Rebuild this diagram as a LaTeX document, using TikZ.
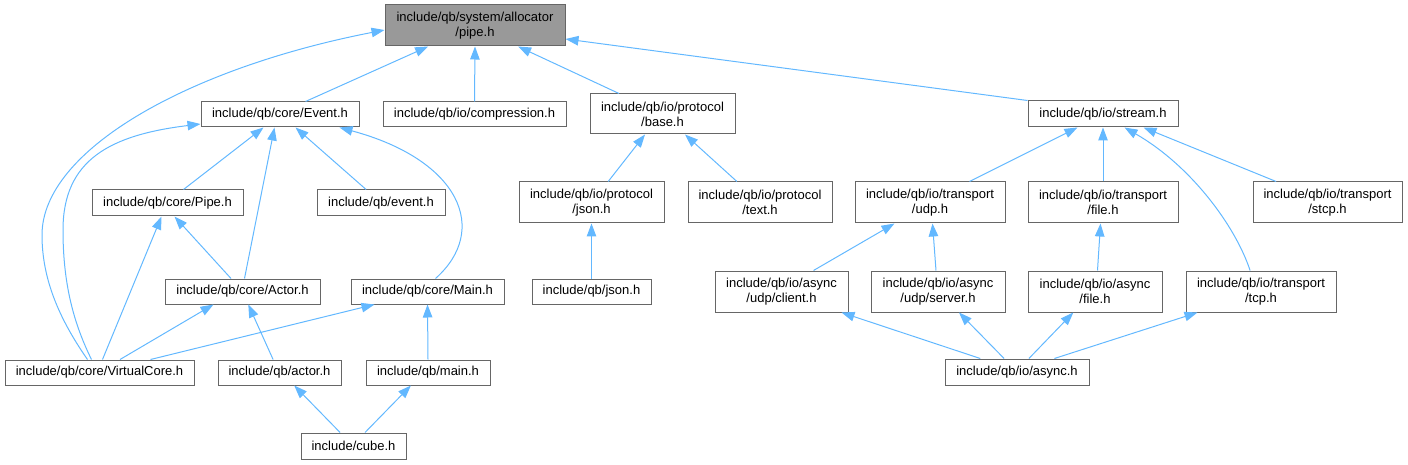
\documentclass[tikz,border=0pt]{standalone}
\usepackage{fontspec}
\setmainfont{Liberation Sans}
\usetikzlibrary{arrows.meta}
\definecolor{edgeblue}{HTML}{63B8FF}
\definecolor{boxgray}{HTML}{666666}
\definecolor{rootfill}{HTML}{999999}
\begin{document}
\begin{tikzpicture}[x=1pt,y=-1pt,
  box/.style={draw=boxgray,line width=1pt,fill=white,inner sep=0pt,align=center,
    font=\fontsize{13}{15}\selectfont,minimum height=25pt},
  box2/.style={box,minimum height=41pt},
  rootbox/.style={box2,fill=rootfill},
  edge/.style={draw=edgeblue,line width=1pt,-{Triangle[length=13pt,width=9.5pt]}}]
\useasboundingbox (0,0) rectangle (1408,465);
% nodes
\node[rootbox,minimum width=180pt] (pipe) at (475,25.5) {include/qb/system/allocator\\/pipe.h};
\node[box,minimum width=158pt] (ev) at (280,114.5) {include/qb/core/Event.h};
\node[box,minimum width=183pt] (comp) at (474.5,114.5) {include/qb/io/compression.h};
\node[box,minimum width=151pt,minimum height=26pt] (cpipe) at (167.5,203) {include/qb/core/Pipe.h};
\node[box,minimum width=128pt,minimum height=26pt] (qevent) at (381,203) {include/qb/event.h};
\node[box,minimum width=155pt] (cactor) at (242.5,291.5) {include/qb/core/Actor.h};
\node[box,minimum width=153pt] (cmain) at (427.5,291.5) {include/qb/core/Main.h};
\node[box,minimum width=189pt] (vc) at (99.5,372.5) {include/qb/core/VirtualCore.h};
\node[box,minimum width=123pt] (qactor) at (279.5,372.5) {include/qb/actor.h};
\node[box,minimum width=124pt] (qmain) at (428,372.5) {include/qb/main.h};
\node[box,minimum width=105pt,minimum height=26pt] (cube) at (353.5,446) {include/cube.h};
\node[box2,minimum width=145pt,minimum height=40pt] (base) at (662.5,114) {include/qb/io/protocol\\/base.h};
\node[box2,minimum width=145pt] (pjson) at (591.5,202.5) {include/qb/io/protocol\\/json.h};
\node[box2,minimum width=144pt] (ptext) at (760,202.5) {include/qb/io/protocol\\/text.h};
\node[box,minimum width=119pt] (json) at (591.5,291.5) {include/qb/json.h};
\node[box,minimum width=150pt,minimum height=26pt] (stream) at (1103,114) {include/qb/io/stream.h};
\node[box2,minimum width=150pt] (tudp) at (930,202.5) {include/qb/io/transport\\/udp.h};
\node[box2,minimum width=150pt] (tfile) at (1103,202.5) {include/qb/io/transport\\/file.h};
\node[box2,minimum width=149pt] (tstcp) at (1327.5,202.5) {include/qb/io/transport\\/stcp.h};
\node[box2,minimum width=133pt] (aclient) at (781.5,291.5) {include/qb/io/async\\/udp/client.h};
\node[box2,minimum width=134pt] (aserver) at (938,291.5) {include/qb/io/async\\/udp/server.h};
\node[box2,minimum width=134pt] (afile) at (1095,291.5) {include/qb/io/async\\/file.h};
\node[box2,minimum width=150pt] (ttcp) at (1261,291.5) {include/qb/io/transport\\/tcp.h};
\node[box,minimum width=144pt,minimum height=26pt] (async) at (1017,372) {include/qb/io/async.h};
% edges
\draw[edge] ([xshift=105pt]ev.north west) -- ([xshift=43.6pt]pipe.south west);
\draw[edge] (comp.north) -- (pipe.south);
\draw[edge] ([xshift=29.5pt]base.north west) -- ([xshift=133.6pt]pipe.south west);
\draw[edge] (stream.north west) -- ([yshift=-13.5pt]pipe.east);
\draw[edge] ([xshift=83pt]vc.north west) .. controls (60,320) and (42,280) .. (42,235)
  .. controls (42,150) and (189,68) .. ([yshift=-4.5pt]pipe.west);
\draw[edge] ([xshift=87pt]vc.north west) .. controls (72,320) and (63,280) .. (63,230)
  .. controls (63,160) and (110,135) .. ([yshift=-9.5pt]ev.west);
\draw[edge] ([xshift=92pt]cpipe.north west) -- ([xshift=63pt]ev.south west);
\draw[edge] ([xshift=80pt]cactor.north west) -- ([xshift=74pt]ev.south west);
\draw[edge] ([xshift=49.6pt]qevent.north west) -- ([xshift=95pt]ev.south west);
\draw[edge] ([xshift=85pt]cmain.north west) .. controls (490,230) and (460,160) .. ([xshift=139pt]ev.south west);
\draw[edge] ([xshift=98pt]vc.north west) -- ([xshift=70pt]cpipe.south west);
\draw[edge] ([xshift=66.5pt]cactor.north west) -- ([xshift=83pt]cpipe.south west);
\draw[edge] ([xshift=115.5pt]vc.north west) -- ([xshift=49pt]cactor.south west);
\draw[edge] ([xshift=146pt]vc.north west) -- ([xshift=24pt]cmain.south west);
\draw[edge] ([xshift=55.6pt]qactor.north west) -- ([xshift=83.8pt]cactor.south west);
\draw[edge] (qmain.north) -- (cmain.south);
\draw[edge] ([xshift=39.6pt]cube.north west) -- ([xshift=76.7pt]qactor.south west);
\draw[edge] ([xshift=64.5pt]cube.north west) -- ([xshift=45.4pt]qmain.south west);
\draw[edge] ([xshift=89.7pt]pjson.north west) -- ([xshift=55.5pt]base.south west);
\draw[edge] ([xshift=49.4pt]ptext.north west) -- ([xshift=95.5pt]base.south west);
\draw[edge] (json.north) -- (pjson.south);
\draw[edge] ([xshift=115pt]tudp.north west) -- ([xshift=50pt]stream.south west);
\draw[edge] (tfile.north) -- (stream.south);
\draw[edge] ([xshift=64.6pt]ttcp.north west) .. controls (1235,225) and (1190,165) .. ([xshift=97pt]stream.south west);
\draw[edge] ([xshift=23.6pt]tstcp.north west) -- ([xshift=116pt]stream.south west);
\draw[edge] ([xshift=99pt]aclient.north west) -- ([xshift=40pt]tudp.south west);
\draw[edge] ([xshift=65.5pt]aserver.north west) -- ([xshift=78pt]tudp.south west);
\draw[edge] ([xshift=70pt]afile.north west) -- ([xshift=73pt]tfile.south west);
\draw[edge] ([xshift=35.8pt]async.north west) -- ([xshift=127pt]aclient.south west);
\draw[edge] ([xshift=59.6pt]async.north west) -- ([xshift=88.5pt]aserver.south west);
\draw[edge] ([xshift=84.4pt]async.north west) -- ([xshift=45.8pt]afile.south west);
\draw[edge] ([xshift=109.9pt]async.north west) -- ([xshift=12pt]ttcp.south west);
\end{tikzpicture}
\end{document}
